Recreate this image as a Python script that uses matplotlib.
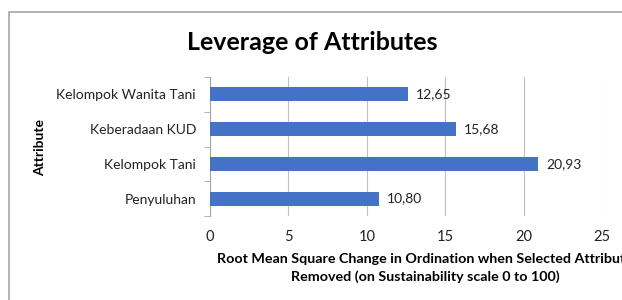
import numpy as np
import matplotlib.pyplot as plt
from matplotlib.patches import Rectangle

# data
atribut = ["Penyuluhan", "Kelompok Tani", "Keberadaan KUD", "Kelompok Wanita Tani"]
nilai = [10.80, 20.93, 15.68, 12.65]
label_nilai = ["10,80", "20,93", "15,68", "12,65"]
xticks = [0, 5, 10, 15, 20, 25]

plt.rcParams['font.family'] = ['Lato', 'DejaVu Sans']

fig = plt.figure(figsize=(6.22, 3.00), dpi=100)
ax = fig.add_axes([210/622, 1-216/300, 392/622, 139/300])

# bingkai abu-abu di sekitar grafik
fig.patches.append(Rectangle((9/622, -0.1), 1.2, 1.1 - 12/300,
                             transform=fig.transFigure, fill=False,
                             edgecolor="#a6a6a6", linewidth=1.2))

y = np.arange(len(atribut))
ax.barh(y, nilai, height=0.4, color="#4472C4", zorder=3)
for yi, v, t in zip(y, nilai, label_nilai):
    ax.text(v + 0.5, yi, t, va="center", ha="left", fontsize=10, color="#222222")

ax.set_xlim(0, 25)
ax.set_ylim(-0.5, 3.5)
ax.set_xticks(xticks)
ax.set_xticklabels([str(t) for t in xticks], fontsize=10.5, color="#222222")
ax.tick_params(axis="x", length=0, pad=10)
ax.set_yticks(y)
ax.set_yticklabels(atribut, fontsize=10, color="#222222")
ax.set_yticks(np.arange(-0.5, 4, 1), minor=True)
ax.tick_params(axis="y", which="major", length=0, pad=10)
ax.tick_params(axis="y", which="minor", length=4, color="#a6a6a6")
ax.grid(axis="x", color="#bfbfbf", linewidth=0.8, zorder=0)
for s in ["top", "right", "bottom"]:
    ax.spines[s].set_visible(False)
ax.spines["left"].set_color("#a6a6a6")

fig.text(312/622, 1-43/300, "Leverage of Attributes", ha="center", va="center",
         fontsize=18, fontweight="bold")
fig.text(40/622, 1-147/300, "Attribute", rotation=90, ha="center", va="center",
         fontsize=10, fontweight="bold")
fig.text(425/622, 1-268/300,
         "Root Mean Square Change in Ordination when Selected Attribute\nRemoved (on Sustainability scale 0 to 100)",
         ha="center", va="center", fontsize=10.3, fontweight="bold", linespacing=1.45)

fig.savefig("out.png", dpi=100)
